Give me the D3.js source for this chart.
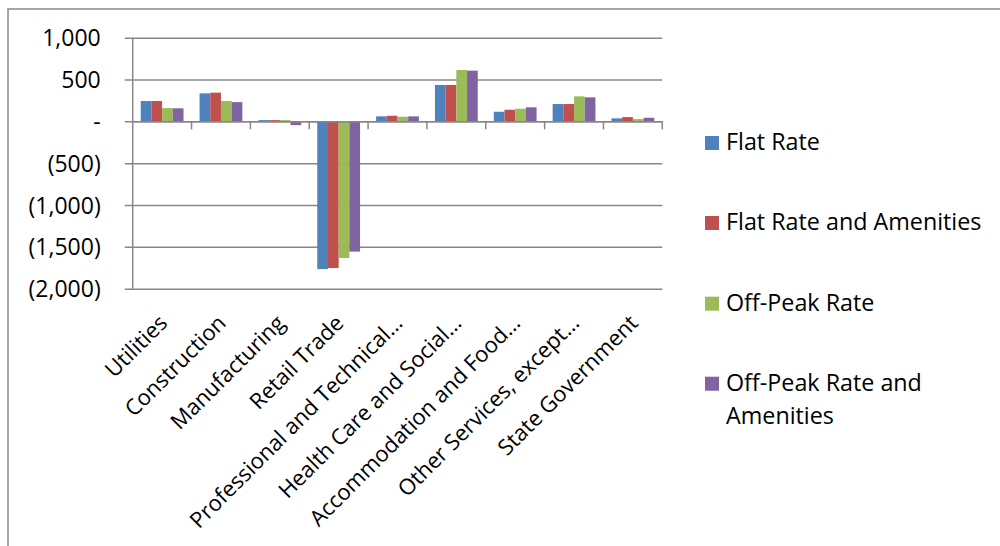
<!DOCTYPE html>
<html><head><meta charset="utf-8">
<script src="https://cdn.jsdelivr.net/npm/d3@7"></script>
<style>
html,body{margin:0;padding:0;background:#fff;}
svg{display:block;font-family:"Open Sans",sans-serif;}
</style></head>
<body>
<svg id="chart" width="1000" height="546"></svg>
<script>
const categories = ["Utilities","Construction","Manufacturing","Retail Trade","Professional and Technical…","Health Care and Social…","Accommodation and Food…","Other Services, except…","State Government"];
const seriesNames = ["Flat Rate","Flat Rate and Amenities","Off-Peak Rate","Off-Peak Rate and Amenities"];
const flatRate        = [243, 335, 15, -1765, 60, 435, 115, 207, 36];
const flatRateAmen    = [243, 343, 15, -1753, 67, 435, 139, 207, 51];
const offPeakRate     = [158, 243, 15, -1633, 55, 614, 151, 299, 27];
const offPeakRateAmen = [156, 230, -45, -1557, 60, 606, 168, 287, 43];
const yTicks = [1000, 500, 0, -500, -1000, -1500, -2000];
const colors = ["#4F81BD","#C0504D","#9BBB59","#8064A2"];
const seriesValues = [flatRate, flatRateAmen, offPeakRate, offPeakRateAmen];

(function(){
const svg = d3.select("#chart");
const grey = "#878787";
const pLeft = 132.7, pRight = 662.3, pTop = 37.7, pBottom = 288.7;

// outer chart border
svg.append("rect").attr("x",8).attr("y",9).attr("width",1100).attr("height",600)
  .attr("fill","none").attr("stroke",grey).attr("stroke-width",1.5);

const y = d3.scaleLinear().domain([-2000,1000]).range([pBottom, pTop]);
const x0 = d3.scaleBand().domain(categories).range([pLeft, pRight]).padding(0);
const bw = x0.bandwidth();
const gap = bw * 1.5 / 5.5;
const x1 = d3.scaleBand().domain(seriesNames).range([gap/2, bw - gap/2]).padding(0);

const fmt = v => v === 0 ? "-" : (v < 0 ? "(" + d3.format(",")(-v) + ")" : d3.format(",")(v));

// gridlines + y axis
const yAxis = d3.axisLeft(y).tickValues(yTicks).tickFormat(fmt).tickSize(-(pRight-pLeft)).tickPadding(0);
const gy = svg.append("g").attr("transform",`translate(${pLeft},0)`).call(yAxis);
gy.select(".domain").remove();
gy.selectAll(".tick line").attr("stroke",grey).attr("stroke-width",1.5).attr("x1",-8);
gy.selectAll(".tick text").attr("x",-32).attr("font-size",23).attr("fill","#000")
  .attr("font-family","'Open Sans',sans-serif").attr("dy","0.35em");

// y axis line
svg.append("line").attr("x1",pLeft).attr("x2",pLeft).attr("y1",pTop).attr("y2",pBottom)
  .attr("stroke",grey).attr("stroke-width",1.5);

// bars
const groups = svg.append("g").selectAll("g").data(categories).join("g")
  .attr("transform", c => `translate(${x0(c)},0)`);
groups.selectAll("rect").data((c,i) => seriesNames.map((s,j) => ({s, j, v: seriesValues[j][i]})))
  .join("rect")
  .attr("x", d => x1(d.s))
  .attr("width", x1.bandwidth())
  .attr("y", d => y(Math.max(0,d.v)))
  .attr("height", d => Math.abs(y(d.v) - y(0)))
  .attr("fill", d => colors[d.j]);

// category axis at zero
const xAxis = d3.axisBottom(x0).tickSize(0).tickFormat("");
const gx = svg.append("g").attr("transform",`translate(0,${y(0)})`).call(xAxis);
gx.select(".domain").attr("stroke",grey).attr("stroke-width",1.5);
gx.selectAll(".tick").remove();
gx.selectAll("line.bt").data(categories).join("line").attr("class","bt")
  .attr("x1", c => x0(c) + bw).attr("x2", c => x0(c) + bw)
  .attr("y1", 0).attr("y2", 8).attr("stroke",grey).attr("stroke-width",1.5);

// category labels
svg.append("g").selectAll("text").data(categories).join("text")
  .attr("transform", c => `translate(${x0(c) + bw/2 + 1},${319}) rotate(-45)`)
  .attr("text-anchor","end").attr("dy","0.35em")
  .attr("font-size",22).attr("fill","#000")
  .text(c => c);

// legend
const legendRows = [
  {lines:["Flat Rate"], y:150},
  {lines:["Flat Rate and Amenities"], y:230},
  {lines:["Off-Peak Rate"], y:310.7},
  {lines:["Off-Peak Rate and","Amenities"], y:390.7}
];
const lg = svg.append("g").selectAll("g").data(seriesNames).join("g");
lg.append("rect").attr("x",705).attr("y",(d,i)=>legendRows[i].y-14).attr("width",14).attr("height",14)
  .attr("fill",(d,i)=>colors[i]);
lg.each(function(d,i){
  const t = d3.select(this).append("text").attr("x",726).attr("y",legendRows[i].y)
    .attr("font-size",23.3).attr("fill","#000");
  legendRows[i].lines.forEach((ln,k)=>{
    t.append("tspan").attr("x",726).attr("dy", k===0 ? 0 : 33).text(ln);
  });
});
})();
</script>
</body></html>
